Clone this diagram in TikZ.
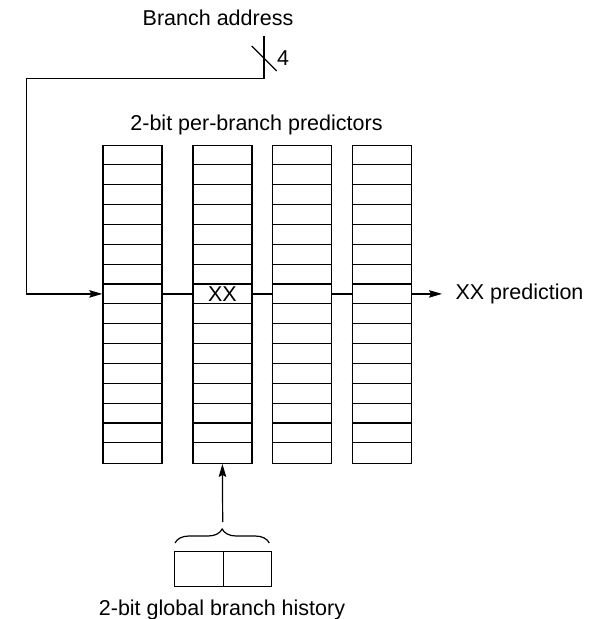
\documentclass[tikz,border=0pt]{standalone}
\usepackage{fontspec}
\setmainfont{Liberation Sans}
\usetikzlibrary{arrows.meta,decorations.pathreplacing,calc}
\begin{document}
\begin{tikzpicture}[x=1pt,y=-1pt,
  line width=1.2pt,
  every node/.style={font=\fontsize{21.5}{25}\selectfont},
  col/.style={draw,rectangle,minimum width=59pt,minimum height=317.7pt,anchor=north west,inner sep=0pt},
  hcell/.style={draw,rectangle,minimum width=48.5pt,minimum height=35.3pt,anchor=north west,inner sep=0pt},
  arr/.style={-{Stealth[length=13pt,width=7.5pt,inset=2pt]}},
  lbl/.style={inner sep=0pt}]
\useasboundingbox (0,0) rectangle (593,619);
% columns
\foreach \i/\x in {1/102.3,2/192.3,3/271.5,4/351.5}{
  \node[col] (c\i) at (\x,145) {};
  \foreach \r in {1,...,15}{
    \draw (c\i.north west) ++(0,\r*19.856) -- ++(59,0);
  }
}
% labels
\node[lbl] (ba) at (218,18) {Branch address};
\node[lbl] (pp) at (256.5,125) {2-bit per-branch predictors};
\node[lbl] (xx) at ($(c2.north)+(0,149)$) {XX};
\node[lbl,anchor=west] (pred) at (455,294) {XX prediction};
\node[lbl] (gh) at (222,610) {2-bit global branch history};
\node[lbl] (four) at (283,58) {4};
% branch address line
\coordinate (bt) at (264,36);
\coordinate (bc) at (264,78.7);
\coordinate (bl) at (26.7,78.7);
\coordinate (row) at (0,293.9);
\draw[arr] (bt) -- (bc) -- (bl) -- (bl |- row) -- (c1.west |- row);
\draw (251.7,46) -- (276.7,71);
% through-line
\draw (c1.east |- row) -- (c2.west |- row);
\draw (c2.east |- row) -- (c3.west |- row);
\draw (c3.east |- row) -- (c4.west |- row);
\coordinate (pe) at (442,293.9);
\draw[arr] (c4.east |- row) -- (pe);
% global history
\node[hcell] (h1) at (174,550.7) {};
\node[hcell] (h2) at (222.5,550.7) {};
\draw[decorate,decoration={brace,amplitude=14pt}] (175,543) -- (269.3,543);
\coordinate (bt2) at (222.7,522);
\draw[arr] (bt2) -- (c2.south);
\end{tikzpicture}
\end{document}
